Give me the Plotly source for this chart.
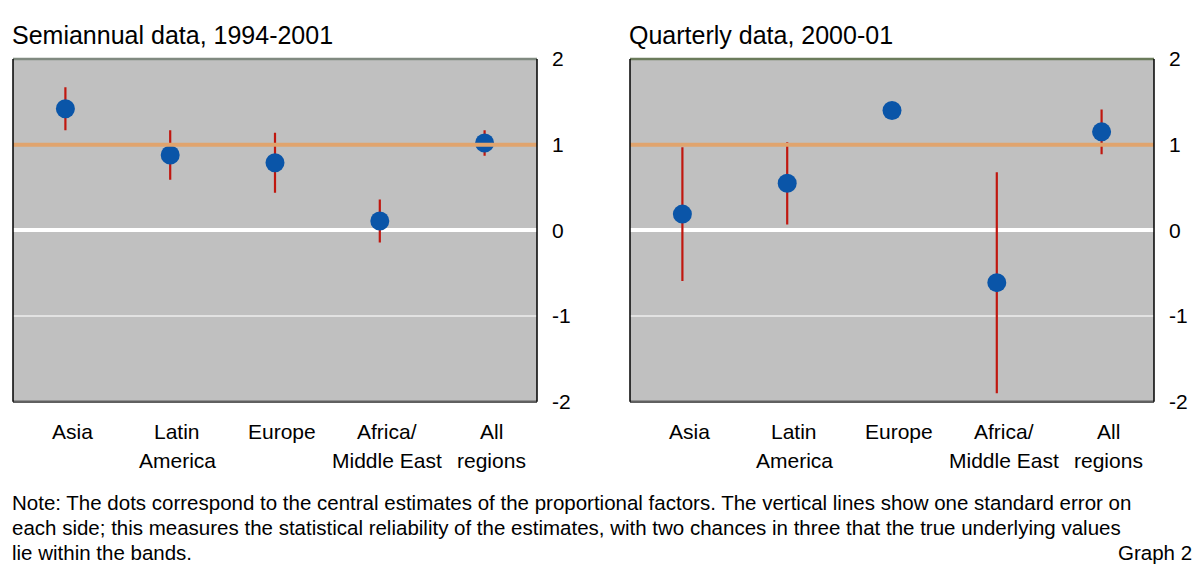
import plotly.graph_objects as go

# ---- data ----
categories = ["Asia", "Latin<br>America", "Europe", "Africa/<br>Middle East", "All<br>regions"]
semi_values = [1.42, 0.88, 0.79, 0.11, 1.02]
semi_errors = [0.25, 0.29, 0.35, 0.25, 0.15]
quart_values = [0.19, 0.55, 1.40, -0.61, 1.15]
quart_errors = [0.78, 0.48, 0.0, 1.29, 0.26]
ref_level = [1.0, 1.0]
y_ticks = [-2, -1, 0, 1, 2]
panel_titles = ["Semiannual data, 1994-2001", "Quarterly data, 2000-01"]
note_lines = [
    "Note: The dots correspond to the central estimates of the proportional factors. The vertical lines show one standard error on",
    "each side; this measures the statistical reliability of the estimates, with two chances in three that the true underlying values",
    "lie within the bands.",
]
graph_label = "Graph 2"

W, H = 1197, 574
FONT = "Liberation Sans, Arial, sans-serif"
DOT = "#0A55A8"
ERR = "#C0170F"
ORANGE = "#E0A46E"
BG = "#C0C0C0"

xs = list(range(len(categories)))

fig = go.Figure()

panels = [
    ("x", "y", semi_values, semi_errors, "#808A80"),
    ("x2", "y2", quart_values, quart_errors, "#6B7B5B"),
]
for xa, ya, vals, errs, topcol in panels:
    fig.add_trace(go.Scatter(
        x=xs, y=vals, xaxis=xa, yaxis=ya, mode="markers",
        marker=dict(size=19, color=DOT),
        error_y=dict(type="data", array=errs, visible=True, color=ERR, thickness=2.2, width=0),
        showlegend=False, hoverinfo="skip",
    ))
    fig.add_trace(go.Scatter(
        x=[-0.5, len(categories) - 0.5], y=ref_level, xaxis=xa, yaxis=ya, mode="lines",
        line=dict(color=ORANGE, width=4), showlegend=False, hoverinfo="skip",
    ))
    xr = "x domain" if xa == "x" else "x2 domain"
    yr = "y domain" if ya == "y" else "y2 domain"
    fig.add_shape(type="line", xref=xr, yref=yr, x0=0, x1=1, y0=1, y1=1, line=dict(color=topcol, width=2.5))
    fig.add_shape(type="line", xref=xr, yref=yr, x0=0, x1=1, y0=0, y1=0, line=dict(color="#606060", width=2.5))
    fig.add_shape(type="line", xref=xr, yref=yr, x0=0, x1=0, y0=0, y1=1, line=dict(color="black", width=1.5))
    fig.add_shape(type="line", xref=xr, yref=yr, x0=1, x1=1, y0=0, y1=1, line=dict(color="black", width=1.5))

    # category labels (one annotation per text line, positioned via the x axis)
    for i, cat in enumerate(categories):
        for k, part in enumerate(cat.split("<br>")):
            fig.add_annotation(text=part, x=i, xref=xa, y=1 - (437 + 30 * k) / H, yref="paper",
                               xshift=7, xanchor="center", yanchor="middle", showarrow=False,
                               font=dict(family=FONT, size=21, color="black"))

ydom = [1 - 406 / H, 1 - 49 / H]
xdoms = [[13 / W, 537 / W], [630 / W, 1154 / W]]

axis_common_x = dict(
    range=[-0.5, len(categories) - 0.5], tickvals=xs,
    showgrid=False, zeroline=False, showline=False, ticks="", showticklabels=False,
    fixedrange=True,
)
axis_common_y = dict(
    range=[-2, 2], tickvals=y_ticks, ticktext=[str(v) for v in y_ticks], side="right",
    showgrid=True, gridcolor="#E2E2E2", gridwidth=2,
    zeroline=True, zerolinecolor="white", zerolinewidth=4,
    showline=False, ticks="", ticklabelstandoff=14,
    tickfont=dict(family=FONT, size=21, color="black"),
    fixedrange=True,
)

fig.update_layout(
    width=W, height=H,
    margin=dict(l=0, r=0, t=0, b=0),
    paper_bgcolor="white", plot_bgcolor=BG,
    xaxis=dict(domain=xdoms[0], anchor="y", **axis_common_x),
    xaxis2=dict(domain=xdoms[1], anchor="y2", **axis_common_x),
    yaxis=dict(domain=ydom, anchor="x", **axis_common_y),
    yaxis2=dict(domain=ydom, anchor="x2", **axis_common_y),
)

# panel titles
for title, xpix in zip(panel_titles, [10, 627]):
    fig.add_annotation(text=title, x=xpix / W, y=1 - 24 / H, xref="paper", yref="paper",
                       xanchor="left", yanchor="middle", showarrow=False,
                       font=dict(family=FONT, size=25, color="black"))

# note
for line, ypix in zip(note_lines, [511, 537, 563]):
    fig.add_annotation(text=line, x=10 / W, y=1 - ypix / H, xref="paper", yref="paper",
                       xanchor="left", yanchor="middle", showarrow=False,
                       font=dict(family=FONT, size=20.5, color="black"))
fig.add_annotation(text=graph_label, x=1194 / W, y=1 - 563 / H, xref="paper", yref="paper",
                   xanchor="right", yanchor="middle", showarrow=False,
                   font=dict(family=FONT, size=20.5, color="black"))

fig.write_html(
    "out.html",
    config={"displayModeBar": False},
    post_script="document.body.style.margin='0px';document.body.style.overflow='hidden';",
)
